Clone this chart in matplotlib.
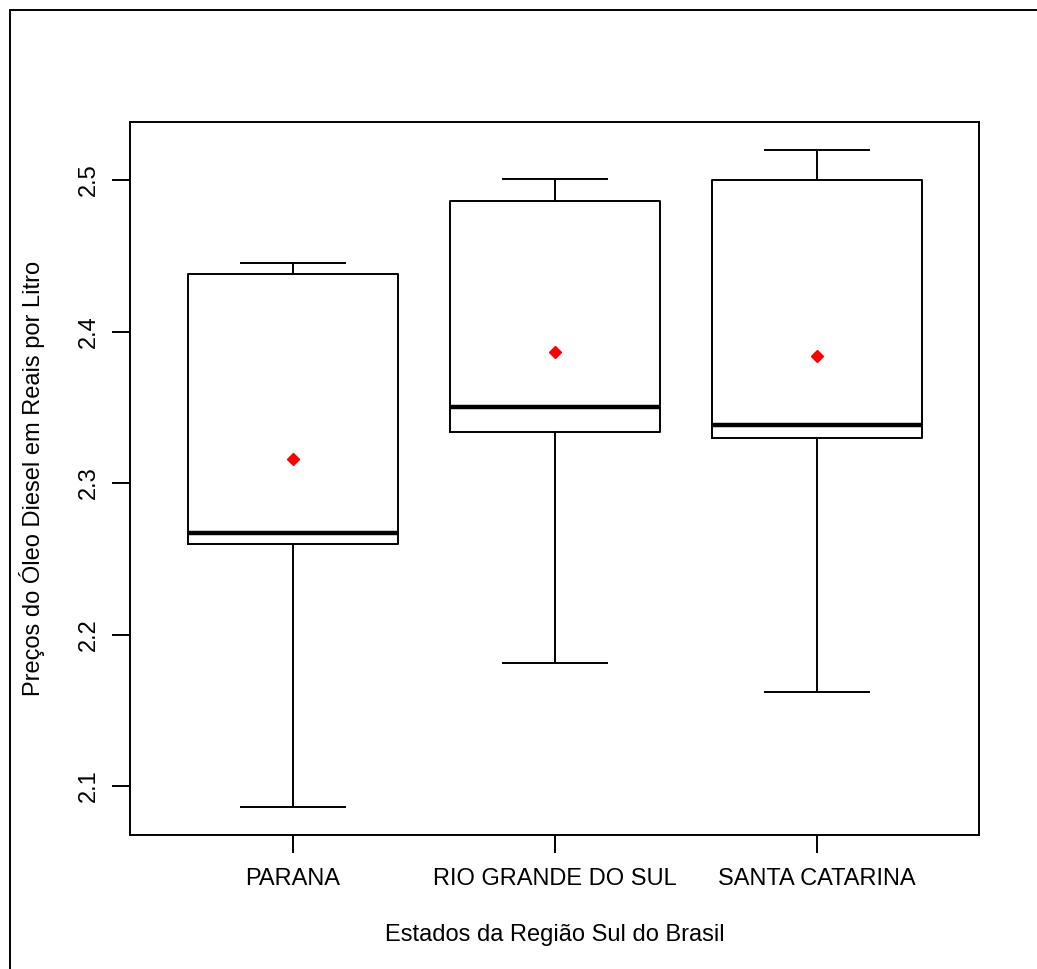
import matplotlib
matplotlib.use('Agg')
import matplotlib.pyplot as plt
from matplotlib.patches import Rectangle

plt.rcParams['font.family'] = ['Liberation Sans', 'DejaVu Sans']

# dados
estados = ['PARANA', 'RIO GRANDE DO SUL', 'SANTA CATARINA']
minimo = [2.086, 2.181, 2.162]
q1 = [2.260, 2.334, 2.330]
mediana = [2.267, 2.350, 2.338]
q3 = [2.438, 2.486, 2.500]
maximo = [2.445, 2.501, 2.520]
media = [2.316, 2.3865, 2.384]

stats = []
for i, nome in enumerate(estados):
    stats.append({'label': nome, 'whislo': minimo[i], 'q1': q1[i], 'med': mediana[i],
                  'q3': q3[i], 'whishi': maximo[i], 'fliers': []})

fig = plt.figure(figsize=(10.37, 9.69), dpi=100)
ax = fig.add_axes([130/1037, 1 - 835/969, (979-130)/1037, (835-122)/969])

lw = 1.4
ax.bxp(stats, positions=[1, 2, 3], widths=0.8, showfliers=False,
       boxprops=dict(color='black', linewidth=lw),
       whiskerprops=dict(color='black', linewidth=lw, linestyle='-'),
       capprops=dict(color='black', linewidth=lw),
       medianprops=dict(color='black', linewidth=3.2),
       capwidths=0.4)
ax.plot([1, 2, 3], media, linestyle='none', marker='D', color='red', markersize=6.5)

ax.set_xlim(0.378, 3.618)
ax.set_ylim(2.0677, 2.5383)
ax.set_yticks([2.1, 2.2, 2.3, 2.4, 2.5])
ax.set_yticklabels(['2.1', '2.2', '2.3', '2.4', '2.5'], rotation=90, va='center')
ax.set_xticks([1, 2, 3])
ax.set_xticklabels(estados)
ax.tick_params(axis='both', labelsize=17, length=13, width=lw, color='black')
ax.tick_params(axis='x', pad=11)
ax.tick_params(axis='y', pad=8.5)
for s in ax.spines.values():
    s.set_linewidth(lw)

ax.set_xlabel('Estados da Região Sul do Brasil', fontsize=17, labelpad=24)
ax.set_ylabel('Preços do Óleo Diesel em Reais por Litro', fontsize=17, labelpad=24)

# moldura externa da figura
fig.patches.append(Rectangle((9.5/1037, -0.1), 1.2, 1.1 - 9.5/969,
                             transform=fig.transFigure, fill=False,
                             edgecolor='black', linewidth=lw))

fig.savefig('out.png', dpi=100)
